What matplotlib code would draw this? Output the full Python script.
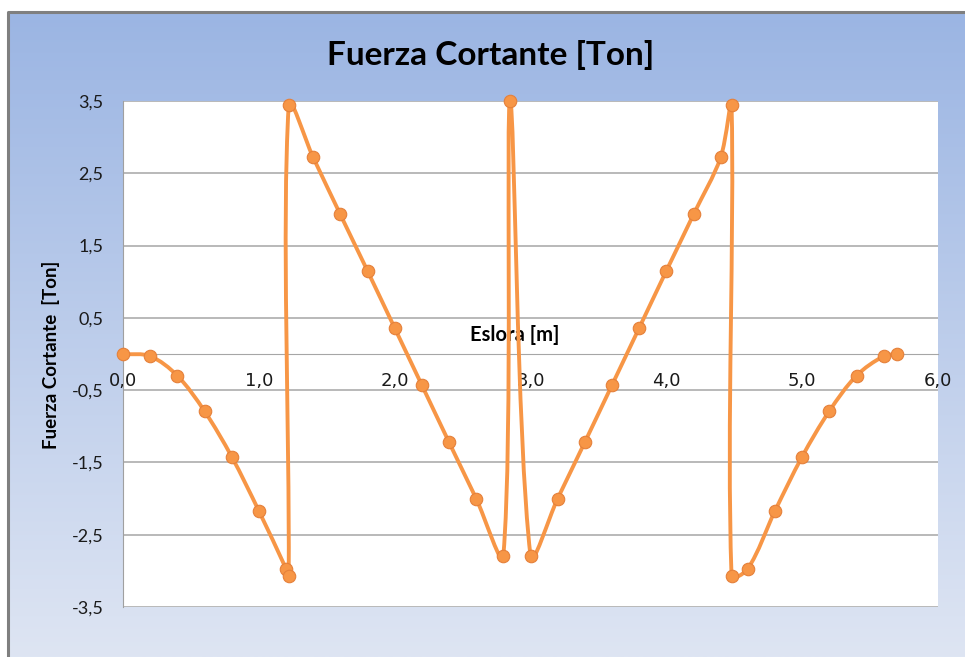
import numpy as np
import matplotlib
matplotlib.use("Agg")
import matplotlib.pyplot as plt
from matplotlib.path import Path
from matplotlib.patches import PathPatch
from matplotlib.ticker import FuncFormatter

# datos
eslora = [0.0, 0.2, 0.4, 0.6, 0.8, 1.0, 1.2, 1.22, 1.22, 1.4, 1.6, 1.8, 2.0,
          2.2, 2.4, 2.6, 2.8, 2.85, 3.0, 3.2, 3.4, 3.6, 3.8, 4.0, 4.2, 4.4,
          4.48, 4.48, 4.6, 4.8, 5.0, 5.2, 5.4, 5.6, 5.7]
cortante = [0.0, -0.03, -0.30, -0.79, -1.42, -2.17, -2.97, -3.07, 3.45, 2.72,
            1.93, 1.15, 0.36, -0.43, -1.22, -2.00, -2.79, 3.50, -2.79, -2.00,
            -1.22, -0.43, 0.36, 1.15, 1.93, 2.72, 3.45, -3.07, -2.97, -2.17,
            -1.42, -0.79, -0.30, -0.03, 0.0]
x_ticks = [0, 1, 2, 3, 4, 5, 6]
y_ticks = [-3.5, -2.5, -1.5, -0.5, 0.5, 1.5, 2.5, 3.5]

titulo = "Fuerza Cortante [Ton]"
x_titulo = "Eslora [m]"
y_titulo = "Fuerza Cortante  [Ton]"

NARANJA = "#F79646"
FUENTE = "Lato"


def coma(v, pos=None):
    """Formato con coma decimal."""
    return f"{v:.1f}".replace(".", ",")


def linea_suavizada(ax, xs, ys):
    """Curva tipo 'linea suavizada' de Excel (Bezier en coordenadas de pantalla)."""
    pts = ax.transData.transform(np.column_stack([xs, ys]))
    n = len(pts)
    verts = [pts[0]]
    codes = [Path.MOVETO]
    for i in range(n - 1):
        p0 = pts[max(i - 1, 0)]
        p1 = pts[i]
        p2 = pts[i + 1]
        p3 = pts[min(i + 2, n - 1)]
        d01 = np.hypot(*(p1 - p0))
        d12 = np.hypot(*(p2 - p1))
        d23 = np.hypot(*(p3 - p2))
        c1 = p1 + (p2 - p0) * d12 / (d01 + d12) / 3 if d01 + d12 > 0 else p1
        c2 = p2 - (p3 - p1) * d12 / (d12 + d23) / 3 if d12 + d23 > 0 else p2
        verts += [c1, c2, p2]
        codes += [Path.CURVE4] * 3
    verts = ax.transData.inverted().transform(np.array(verts))
    return PathPatch(Path(verts, codes), fill=False, edgecolor=NARANJA,
                     linewidth=2.8, capstyle="round", joinstyle="round", zorder=3)


fig = plt.figure(figsize=(9.65, 6.57), dpi=100)
fig.patch.set_facecolor("white")

# fondo degradado del area del grafico
bg = fig.add_axes([0, 0, 1, 1], zorder=-1)
bg.set_xlim(0, 965)
bg.set_ylim(0, 657)
bg.axis("off")
top = np.array([155, 181, 227]) / 255
bot = np.array([222, 229, 243]) / 255
t = np.linspace(0, 1, 256)[:, None]
grad = (top * (1 - t) + bot * t)[:, None, :]
bg.imshow(grad, extent=[8, 965, 0, 645], aspect="auto", interpolation="bilinear")
bg.plot([8, 8, 965], [0, 645, 645], color="#7F7F7F", linewidth=2.2)

ax = fig.add_axes([123 / 965, 1 - 607 / 657, 815 / 965, 506 / 657])
ax.set_facecolor("white")
ax.set_xlim(0, 6)
ax.set_ylim(-3.5, 3.5)

ax.set_xticks(x_ticks)
ax.set_yticks(y_ticks)
ax.xaxis.set_major_formatter(FuncFormatter(coma))
ax.yaxis.set_major_formatter(FuncFormatter(coma))
ax.tick_params(axis="x", length=0, pad=13, labelsize=13, labelcolor="#1A1A1A")
ax.tick_params(axis="y", length=0, pad=14, labelsize=13, labelcolor="#1A1A1A")
for lab in ax.get_xticklabels() + ax.get_yticklabels():
    lab.set_family(FUENTE)

ax.grid(axis="y", color="#A6A6A6", linewidth=1.1)
ax.set_axisbelow(True)
for s in ["top", "right"]:
    ax.spines[s].set_visible(False)
ax.spines["left"].set_color("#A0A0A0")
ax.spines["bottom"].set_color("#A6A6A6")
ax.spines["bottom"].set_position(("data", 0))

ax.add_patch(linea_suavizada(ax, eslora, cortante))
ax.plot(eslora, cortante, linestyle="None", marker="o", markersize=9,
        markerfacecolor=NARANJA, markeredgecolor="#E5803A", markeredgewidth=0.8,
        zorder=4, clip_on=False)

ax.set_xlabel(x_titulo, fontsize=14.5, fontweight="bold", family=FUENTE)
ax.xaxis.set_label_coords(0.481, 0.5375)
ax.xaxis.label.set_verticalalignment("center")

fig.text(51 / 965, 1 - 355 / 657, y_titulo, rotation=90, fontsize=13.5,
         fontweight="bold", family=FUENTE, ha="center", va="center")
fig.text(491 / 965, 1 - 55 / 657, titulo, fontsize=24, fontweight="bold",
         family=FUENTE, ha="center", va="center")

fig.savefig("out.png", dpi=100)
